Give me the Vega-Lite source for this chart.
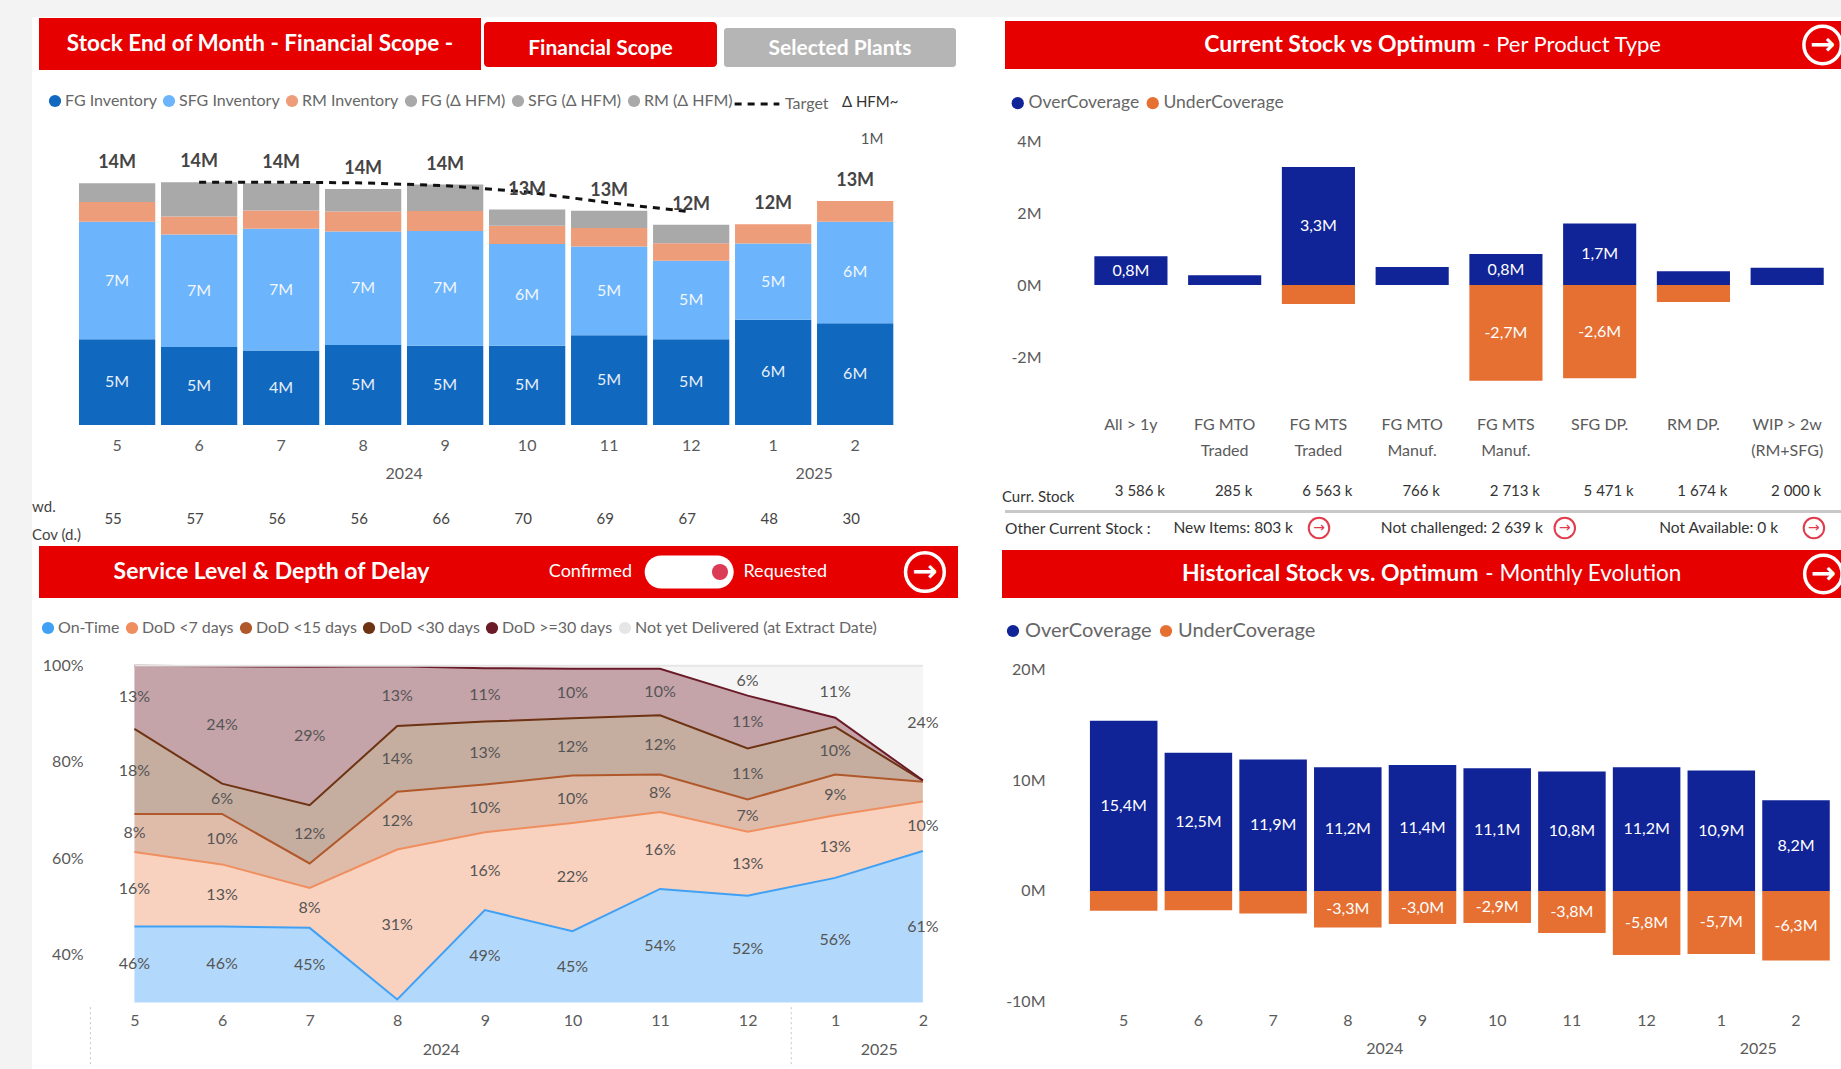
{"$schema":"https://vega.github.io/schema/vega-lite/v6.json","padding":0,"background":"#ffffff","data":{"values":[{"k":1}]},
"config":{"font":"Lato","view":{"stroke":null},"concat":{"spacing":0},"axis":{"labelFontSize":16,"labelColor":"#5a5a5a","ticks":false,"domain":false,"grid":false},"legend":{"labelFontSize":16,"labelColor":"#666666","symbolType":"circle","symbolSize":150,"labelOffset":2,"columnPadding":4,"symbolStrokeWidth":0,"symbolOpacity":1}},
"datasets":{
"none":[],
"years":[{"m":"8","t":"2024"},{"m":"1","t":"2025"}],
"stock":[
{"m":"5","s":"FG Inventory","o":1,"v":5.04,"l":"5M"},{"m":"5","s":"SFG Inventory","o":2,"v":6.91,"l":"7M"},{"m":"5","s":"RM Inventory","o":3,"v":1.16,"l":""},{"m":"5","s":"FG (Δ HFM)","o":4,"v":1.11,"l":""},
{"m":"6","s":"FG Inventory","o":1,"v":4.58,"l":"5M"},{"m":"6","s":"SFG Inventory","o":2,"v":6.63,"l":"7M"},{"m":"6","s":"RM Inventory","o":3,"v":1.05,"l":""},{"m":"6","s":"FG (Δ HFM)","o":4,"v":2.02,"l":""},
{"m":"7","s":"FG Inventory","o":1,"v":4.38,"l":"4M"},{"m":"7","s":"SFG Inventory","o":2,"v":7.16,"l":"7M"},{"m":"7","s":"RM Inventory","o":3,"v":1.07,"l":""},{"m":"7","s":"FG (Δ HFM)","o":4,"v":1.61,"l":""},
{"m":"8","s":"FG Inventory","o":1,"v":4.71,"l":"5M"},{"m":"8","s":"SFG Inventory","o":2,"v":6.67,"l":"7M"},{"m":"8","s":"RM Inventory","o":3,"v":1.18,"l":""},{"m":"8","s":"FG (Δ HFM)","o":4,"v":1.32,"l":""},
{"m":"9","s":"FG Inventory","o":1,"v":4.66,"l":"5M"},{"m":"9","s":"SFG Inventory","o":2,"v":6.75,"l":"7M"},{"m":"9","s":"RM Inventory","o":3,"v":1.18,"l":""},{"m":"9","s":"FG (Δ HFM)","o":4,"v":1.55,"l":""},
{"m":"10","s":"FG Inventory","o":1,"v":4.66,"l":"5M"},{"m":"10","s":"SFG Inventory","o":2,"v":5.99,"l":"6M"},{"m":"10","s":"RM Inventory","o":3,"v":1.07,"l":""},{"m":"10","s":"FG (Δ HFM)","o":4,"v":0.95,"l":""},
{"m":"11","s":"FG Inventory","o":1,"v":5.28,"l":"5M"},{"m":"11","s":"SFG Inventory","o":2,"v":5.22,"l":"5M"},{"m":"11","s":"RM Inventory","o":3,"v":1.09,"l":""},{"m":"11","s":"FG (Δ HFM)","o":4,"v":1.01,"l":""},
{"m":"12","s":"FG Inventory","o":1,"v":5.04,"l":"5M"},{"m":"12","s":"SFG Inventory","o":2,"v":4.62,"l":"5M"},{"m":"12","s":"RM Inventory","o":3,"v":1.03,"l":""},{"m":"12","s":"FG (Δ HFM)","o":4,"v":1.09,"l":""},
{"m":"1","s":"FG Inventory","o":1,"v":6.19,"l":"6M"},{"m":"1","s":"SFG Inventory","o":2,"v":4.48,"l":"5M"},{"m":"1","s":"RM Inventory","o":3,"v":1.14,"l":""},
{"m":"2","s":"FG Inventory","o":1,"v":5.99,"l":"6M"},{"m":"2","s":"SFG Inventory","o":2,"v":5.96,"l":"6M"},{"m":"2","s":"RM Inventory","o":3,"v":1.22,"l":""}],
"totals":[{"m":"5","v":14.22,"l":"14M"},{"m":"6","v":14.28,"l":"14M"},{"m":"7","v":14.22,"l":"14M"},{"m":"8","v":13.88,"l":"14M"},{"m":"9","v":14.14,"l":"14M"},{"m":"10","v":12.67,"l":"13M"},{"m":"11","v":12.6,"l":"13M"},{"m":"12","v":11.78,"l":"12M"},{"m":"1","v":11.81,"l":"12M"},{"m":"2","v":13.17,"l":"13M"}],
"target":[{"m":"6","s":"Target","v":14.28},{"m":"7","s":"Target","v":14.28},{"m":"8","s":"Target","v":14.24},{"m":"9","s":"Target","v":14.08},{"m":"10","s":"Target","v":13.7},{"m":"11","s":"Target","v":13.07},{"m":"12","s":"Target","v":12.54}],
"cov":[{"m":"5","c":55},{"m":"6","c":57},{"m":"7","c":56},{"m":"8","c":56},{"m":"9","c":66},{"m":"10","c":70},{"m":"11","c":69},{"m":"12","c":67},{"m":"1","c":48},{"m":"2","c":30}],
"types":[
{"t":"All > 1y|","s":"OverCoverage","o":1,"v":0.8,"l":"0,8M"},
{"t":"FG MTO|Traded","s":"OverCoverage","o":1,"v":0.27,"l":""},
{"t":"FG MTS|Traded","s":"OverCoverage","o":1,"v":3.28,"l":"3,3M"},{"t":"FG MTS|Traded","s":"UnderCoverage","o":2,"v":-0.53,"l":""},
{"t":"FG MTO|Manuf.","s":"OverCoverage","o":1,"v":0.5,"l":""},
{"t":"FG MTS|Manuf.","s":"OverCoverage","o":1,"v":0.86,"l":"0,8M"},{"t":"FG MTS|Manuf.","s":"UnderCoverage","o":2,"v":-2.66,"l":"-2,7M"},
{"t":"SFG DP.|","s":"OverCoverage","o":1,"v":1.71,"l":"1,7M"},{"t":"SFG DP.|","s":"UnderCoverage","o":2,"v":-2.59,"l":"-2,6M"},
{"t":"RM DP.|","s":"OverCoverage","o":1,"v":0.38,"l":""},{"t":"RM DP.|","s":"UnderCoverage","o":2,"v":-0.47,"l":""},
{"t":"WIP > 2w|(RM+SFG)","s":"OverCoverage","o":1,"v":0.48,"l":""}],
"curr":[{"t":"All > 1y|","c":"3 586 k"},{"t":"FG MTO|Traded","c":"285 k"},{"t":"FG MTS|Traded","c":"6 563 k"},{"t":"FG MTO|Manuf.","c":"766 k"},{"t":"FG MTS|Manuf.","c":"2 713 k"},{"t":"SFG DP.|","c":"5 471 k"},{"t":"RM DP.|","c":"1 674 k"},{"t":"WIP > 2w|(RM+SFG)","c":"2 000 k"}],
"hist":[
{"m":"5","s":"OverCoverage","v":15.4,"l":"15,4M"},{"m":"5","s":"UnderCoverage","v":-1.8,"l":""},
{"m":"6","s":"OverCoverage","v":12.5,"l":"12,5M"},{"m":"6","s":"UnderCoverage","v":-1.75,"l":""},
{"m":"7","s":"OverCoverage","v":11.9,"l":"11,9M"},{"m":"7","s":"UnderCoverage","v":-2.05,"l":""},
{"m":"8","s":"OverCoverage","v":11.2,"l":"11,2M"},{"m":"8","s":"UnderCoverage","v":-3.3,"l":"-3,3M"},
{"m":"9","s":"OverCoverage","v":11.4,"l":"11,4M"},{"m":"9","s":"UnderCoverage","v":-3.0,"l":"-3,0M"},
{"m":"10","s":"OverCoverage","v":11.1,"l":"11,1M"},{"m":"10","s":"UnderCoverage","v":-2.9,"l":"-2,9M"},
{"m":"11","s":"OverCoverage","v":10.8,"l":"10,8M"},{"m":"11","s":"UnderCoverage","v":-3.8,"l":"-3,8M"},
{"m":"12","s":"OverCoverage","v":11.2,"l":"11,2M"},{"m":"12","s":"UnderCoverage","v":-5.8,"l":"-5,8M"},
{"m":"1","s":"OverCoverage","v":10.9,"l":"10,9M"},{"m":"1","s":"UnderCoverage","v":-5.7,"l":"-5,7M"},
{"m":"2","s":"OverCoverage","v":8.2,"l":"8,2M"},{"m":"2","s":"UnderCoverage","v":-6.3,"l":"-6,3M"}],
"service":[
{"m":"5","s":"On-Time","o":1,"v":45.8,"l":"46%"},{"m":"6","s":"On-Time","o":1,"v":45.8,"l":"46%"},{"m":"7","s":"On-Time","o":1,"v":45.5,"l":"45%"},{"m":"8","s":"On-Time","o":1,"v":30.6,"l":""},{"m":"9","s":"On-Time","o":1,"v":49.2,"l":"49%"},{"m":"10","s":"On-Time","o":1,"v":44.8,"l":"45%"},{"m":"11","s":"On-Time","o":1,"v":53.6,"l":"54%"},{"m":"12","s":"On-Time","o":1,"v":52.2,"l":"52%"},{"m":"1","s":"On-Time","o":1,"v":55.9,"l":"56%"},{"m":"2","s":"On-Time","o":1,"v":61.5,"l":"61%"},
{"m":"5","s":"DoD <7 days","o":2,"v":15.5,"l":"16%"},{"m":"6","s":"DoD <7 days","o":2,"v":12.9,"l":"13%"},{"m":"7","s":"DoD <7 days","o":2,"v":8.3,"l":"8%"},{"m":"8","s":"DoD <7 days","o":2,"v":31.2,"l":"31%"},{"m":"9","s":"DoD <7 days","o":2,"v":16.2,"l":"16%"},{"m":"10","s":"DoD <7 days","o":2,"v":22.5,"l":"22%"},{"m":"11","s":"DoD <7 days","o":2,"v":16.0,"l":"16%"},{"m":"12","s":"DoD <7 days","o":2,"v":13.3,"l":"13%"},{"m":"1","s":"DoD <7 days","o":2,"v":13.0,"l":"13%"},{"m":"2","s":"DoD <7 days","o":2,"v":10.3,"l":"10%"},
{"m":"5","s":"DoD <15 days","o":3,"v":7.9,"l":"8%"},{"m":"6","s":"DoD <15 days","o":3,"v":10.5,"l":"10%"},{"m":"7","s":"DoD <15 days","o":3,"v":5.1,"l":""},{"m":"8","s":"DoD <15 days","o":3,"v":12.0,"l":"12%"},{"m":"9","s":"DoD <15 days","o":3,"v":9.9,"l":"10%"},{"m":"10","s":"DoD <15 days","o":3,"v":9.9,"l":"10%"},{"m":"11","s":"DoD <15 days","o":3,"v":7.8,"l":"8%"},{"m":"12","s":"DoD <15 days","o":3,"v":6.7,"l":"7%"},{"m":"1","s":"DoD <15 days","o":3,"v":8.5,"l":"9%"},{"m":"2","s":"DoD <15 days","o":3,"v":4.1,"l":""},
{"m":"5","s":"DoD <30 days","o":4,"v":17.7,"l":"18%"},{"m":"6","s":"DoD <30 days","o":4,"v":6.3,"l":"6%"},{"m":"7","s":"DoD <30 days","o":4,"v":12.1,"l":"12%"},{"m":"8","s":"DoD <30 days","o":4,"v":13.7,"l":"14%"},{"m":"9","s":"DoD <30 days","o":4,"v":13.1,"l":"13%"},{"m":"10","s":"DoD <30 days","o":4,"v":11.9,"l":"12%"},{"m":"11","s":"DoD <30 days","o":4,"v":12.3,"l":"12%"},{"m":"12","s":"DoD <30 days","o":4,"v":10.6,"l":"11%"},{"m":"1","s":"DoD <30 days","o":4,"v":9.9,"l":"10%"},{"m":"2","s":"DoD <30 days","o":4,"v":0.2,"l":""},
{"m":"5","s":"DoD >=30 days","o":5,"v":13.1,"l":"13%"},{"m":"6","s":"DoD >=30 days","o":5,"v":24.4,"l":"24%"},{"m":"7","s":"DoD >=30 days","o":5,"v":28.8,"l":"29%"},{"m":"8","s":"DoD >=30 days","o":5,"v":12.4,"l":"13%"},{"m":"9","s":"DoD >=30 days","o":5,"v":11.1,"l":"11%"},{"m":"10","s":"DoD >=30 days","o":5,"v":10.3,"l":"10%"},{"m":"11","s":"DoD >=30 days","o":5,"v":9.7,"l":"10%"},{"m":"12","s":"DoD >=30 days","o":5,"v":11.0,"l":"11%"},{"m":"1","s":"DoD >=30 days","o":5,"v":1.9,"l":""},{"m":"2","s":"DoD >=30 days","o":5,"v":0.1,"l":""},
{"m":"5","s":"Not yet Delivered (at Extract Date)","o":6,"v":0,"l":""},{"m":"6","s":"Not yet Delivered (at Extract Date)","o":6,"v":0.1,"l":""},{"m":"7","s":"Not yet Delivered (at Extract Date)","o":6,"v":0.2,"l":""},{"m":"8","s":"Not yet Delivered (at Extract Date)","o":6,"v":0.1,"l":""},{"m":"9","s":"Not yet Delivered (at Extract Date)","o":6,"v":0.5,"l":""},{"m":"10","s":"Not yet Delivered (at Extract Date)","o":6,"v":0.6,"l":""},{"m":"11","s":"Not yet Delivered (at Extract Date)","o":6,"v":0.6,"l":""},{"m":"12","s":"Not yet Delivered (at Extract Date)","o":6,"v":6.2,"l":"6%"},{"m":"1","s":"Not yet Delivered (at Extract Date)","o":6,"v":10.8,"l":"11%"},{"m":"2","s":"Not yet Delivered (at Extract Date)","o":6,"v":23.8,"l":"24%"}]
},
"resolve":{"scale":{"color":"independent","strokeDash":"independent"},"legend":{"color":"independent","strokeDash":"independent"}},
"spacing":0,
"vconcat":[
{"width":1841,"height":17,"view":{"fill":"#f3f3f3"},"data":{"name":"none"},"mark":"text"},
{"spacing":0,"resolve":{"scale":{"color":"independent","strokeDash":"independent"},"legend":{"color":"independent","strokeDash":"independent"}},"hconcat":[
{"width":32,"height":1052,"view":{"fill":"#f3f3f3"},"data":{"name":"none"},"mark":"text"},
{"spacing":0,"resolve":{"scale":{"color":"independent","strokeDash":"independent"},"legend":{"color":"independent","strokeDash":"independent"}},"vconcat":[
 {"spacing":0,"hconcat":[
  {"width":7,"height":53,"data":{"name":"none"},"mark":"text"},
  {"spacing":0,"vconcat":[{"width":442,"height":1,"data":{"name":"none"},"mark":"text"},{"width":442,"height":52,"view":{"fill":"#e60000"},"mark":{"type":"text","text":"Stock End of Month - Financial Scope -","color":"#ffffff","fontSize":22.5,"fontWeight":"bold","align":"center"}}]},
  {"width":3,"height":53,"data":{"name":"none"},"mark":"text"},
  {"spacing":0,"vconcat":[{"width":233,"height":5,"data":{"name":"none"},"mark":"text"},{"width":233,"height":45,"view":{"fill":"#e60000","cornerRadius":4},"mark":{"type":"text","text":"Financial Scope","color":"#ffffff","fontSize":21,"fontWeight":"bold","dy":4}}]},
  {"width":7,"height":53,"data":{"name":"none"},"mark":"text"},
  {"spacing":0,"vconcat":[{"width":232,"height":11,"data":{"name":"none"},"mark":"text"},{"width":232,"height":39,"view":{"fill":"#b5b5b5","cornerRadius":3},"mark":{"type":"text","text":"Selected Plants","color":"#ffffff","fontSize":21,"fontWeight":"bold","dy":1}}]},
  {"width":34,"height":53,"data":{"name":"none"},"mark":"text"}
 ]},
 {"width":958,"height":475,
 "encoding":{"x":{"field":"m","type":"nominal","sort":["5","6","7","8","9","10","11","12","1","2"],"scale":{"paddingInner":0.07,"paddingOuter":0.876,"align":0.327},"axis":{"title":null,"labelAngle":0,"labelPadding":12,"offset":-120}}},
 "layer":[
 {"data":{"name":"stock"},"mark":{"type":"bar"},"encoding":{"y":{"field":"v","type":"quantitative","stack":"zero","scale":{"domain":[-7.06,20.88],"nice":false},"axis":null},"order":{"field":"o"},"color":{"field":"s","type":"nominal","scale":{"domain":["FG Inventory","SFG Inventory","RM Inventory","FG (Δ HFM)","SFG (Δ HFM)","RM (Δ HFM)"],"range":["#1068bf","#6cb4fb","#ee9d7a","#a9a9a9","#a9a9a9","#a9a9a9"]},"legend":{"title":null,"orient":"none","direction":"horizontal","legendX":15,"legendY":23}}}},
 {"data":{"name":"stock"},"mark":{"type":"text","color":"#ffffff","fontSize":16,"opacity":0.9},"encoding":{"y":{"field":"v","type":"quantitative","stack":"zero","bandPosition":0.5},"order":{"field":"o"},"detail":{"field":"s"},"text":{"field":"l"}}},
 {"data":{"name":"target"},"mark":{"type":"line","color":"#111111","strokeWidth":3},"encoding":{"y":{"field":"v","type":"quantitative"},"strokeDash":{"field":"s","type":"nominal","scale":{"domain":["Target"],"range":[[7,6]]},"legend":{"title":null,"orient":"none","direction":"horizontal","legendX":701,"legendY":10,"symbolType":"stroke","symbolSize":2000,"symbolStrokeWidth":3,"symbolStrokeColor":"#111111","labelOffset":4}}}},
 {"data":{"name":"totals"},"mark":{"type":"text","color":"#444444","fontSize":18,"fontWeight":"bold","dy":-20},"encoding":{"y":{"field":"v","type":"quantitative"},"text":{"field":"l"}}},
 {"data":{"name":"years"},"mark":{"type":"text","color":"#5a5a5a","fontSize":16,"dx":41},"encoding":{"y":{"datum":-2.88,"type":"quantitative"},"text":{"field":"t"}}},
 {"data":{"name":"cov"},"mark":{"type":"text","color":"#444444","fontSize":15,"dx":-4},"encoding":{"y":{"datum":-5.53,"type":"quantitative"},"text":{"field":"c"}}},
 {"data":{"values":[{"m":"5"}]},"mark":{"type":"text","text":"wd.","color":"#444444","fontSize":15,"align":"left","dx":-85},"encoding":{"y":{"datum":-4.82,"type":"quantitative"}}},
 {"data":{"values":[{"m":"5"}]},"mark":{"type":"text","text":"Cov (d.)","color":"#444444","fontSize":15,"align":"left","dx":-85},"encoding":{"y":{"datum":-6.47,"type":"quantitative"}}},
 {"data":{"values":[{"m":"2"}]},"mark":{"type":"text","text":"1M","color":"#555555","fontSize":15,"dx":17},"encoding":{"y":{"datum":16.8,"type":"quantitative"}}},
 {"data":{"values":[{"m":"2"}]},"mark":{"type":"text","text":"Δ HFM~","color":"#333333","fontSize":15,"dx":15},"encoding":{"y":{"datum":19,"type":"quantitative"}}}
 ]},
 {"spacing":0,"hconcat":[
  {"width":7,"height":52,"data":{"name":"none"},"mark":"text"},
  {"width":919,"height":52,"view":{"fill":"#e60000"},"layer":[
  {"mark":{"type":"text","text":"Service Level & Depth of Delay","color":"#ffffff","fontSize":23,"fontWeight":"bold"},"encoding":{"x":{"datum":25.3,"type":"quantitative","scale":{"domain":[0,100]},"axis":null}}},
  {"mark":{"type":"text","text":"Confirmed","color":"#ffffff","fontSize":18},"encoding":{"x":{"datum":60,"type":"quantitative","scale":{"domain":[0,100]},"axis":null}}},
  {"mark":{"type":"text","text":"Requested","color":"#ffffff","fontSize":18},"encoding":{"x":{"datum":81.2,"type":"quantitative","scale":{"domain":[0,100]},"axis":null}}},
  {"mark":{"type":"rule","color":"#ffffff","strokeWidth":33,"strokeCap":"round"},"encoding":{"x":{"datum":67.7,"type":"quantitative","scale":{"domain":[0,100]},"axis":null},"x2":{"datum":73.8}}},
  {"mark":{"type":"point","shape":"circle","size":260,"filled":true,"color":"#dc3b55","opacity":1},"encoding":{"x":{"datum":74.1,"type":"quantitative","scale":{"domain":[0,100]},"axis":null}}},
  {"mark":{"type":"point","shape":"circle","size":1500,"filled":false,"color":"#ffffff","strokeWidth":3.5,"opacity":1},"encoding":{"x":{"datum":96.4,"type":"quantitative","scale":{"domain":[0,100]},"axis":null}}},
  {"mark":{"type":"text","text":"→","font":"DejaVu Sans","fontSize":30,"fontWeight":"bold","color":"#ffffff"},"encoding":{"x":{"datum":96.4,"type":"quantitative","scale":{"domain":[0,100]},"axis":null}}}
  ]},
  {"width":32,"height":52,"data":{"name":"none"},"mark":"text"}
 ]},
 {"width":958,"height":472,
 "encoding":{"x":{"field":"m","type":"nominal","sort":["5","6","7","8","9","10","11","12","1","2"],"scale":{"type":"point","padding":0.968,"align":0.604},"axis":{"title":null,"labelAngle":0,"labelPadding":9,"offset":-68}}},
 "layer":[
 {"data":{"name":"service"},"transform":[{"stack":"v","groupby":["m"],"sort":[{"field":"o","order":"ascending"}],"as":["y0","y1"]},{"calculate":"max(datum.y0,30)","as":"lo"}],"mark":{"type":"area","opacity":0.4},"encoding":{"y":{"field":"y1","type":"quantitative","scale":{"domain":[15.73,113.9],"nice":false},"axis":{"title":null,"values":[40,60,80,100],"labelExpr":"datum.value+'%'","labelPadding":0,"offset":-51}},"y2":{"field":"lo"},"color":{"field":"s","type":"nominal","scale":{"domain":["On-Time","DoD <7 days","DoD <15 days","DoD <30 days","DoD >=30 days","Not yet Delivered (at Extract Date)"],"range":["#3fa0f5","#ef8f60","#b0582a","#6e3312","#6b1a28","#e6e6e6"]},"legend":{"title":null,"orient":"none","direction":"horizontal","legendX":8,"legendY":21,"labelLimit":400}}}},
 {"data":{"name":"service"},"transform":[{"stack":"v","groupby":["m"],"sort":[{"field":"o","order":"ascending"}],"as":["y0","y1"]}],"mark":{"type":"line","strokeWidth":2},"encoding":{"y":{"field":"y1","type":"quantitative"},"color":{"field":"s","type":"nominal","legend":null}}},
 {"data":{"name":"service"},"transform":[{"stack":"v","groupby":["m"],"sort":[{"field":"o","order":"ascending"}],"as":["y0","y1"]},{"calculate":"(max(datum.y0,30)+datum.y1)/2","as":"mid"}],"mark":{"type":"text","color":"#555555","fontSize":16},"encoding":{"y":{"field":"mid","type":"quantitative"},"text":{"field":"l"}}},
 {"data":{"name":"years"},"mark":{"type":"text","color":"#5a5a5a","fontSize":16,"dx":44},"encoding":{"y":{"datum":20.1,"type":"quantitative"},"text":{"field":"t"}}},
 {"data":{"values":[{"m":"5"},{"m":"1"}]},"mark":{"type":"rule","color":"#c4c4c4","strokeDash":[2,3],"xOffset":-44},"encoding":{"y":{"datum":29,"type":"quantitative"},"y2":{"datum":17}}}
 ]}
]},
{"spacing":0,"resolve":{"scale":{"color":"independent","strokeDash":"independent"},"legend":{"color":"independent","strokeDash":"independent"}},"vconcat":[
 {"spacing":0,"hconcat":[
  {"width":15,"height":52,"data":{"name":"none"},"mark":"text"},
  {"spacing":0,"vconcat":[{"width":836,"height":4,"data":{"name":"none"},"mark":"text"},{"width":836,"height":48,"view":{"fill":"#e60000"},"layer":[
  {"mark":{"type":"text","text":"Current Stock vs Optimum","align":"right","color":"#ffffff","fontSize":23,"fontWeight":"bold"},"encoding":{"x":{"datum":56.3,"type":"quantitative","scale":{"domain":[0,100]},"axis":null}}},
  {"mark":{"type":"text","text":"- Per Product Type","align":"left","color":"#ffffff","fontSize":22},"encoding":{"x":{"datum":57.1,"type":"quantitative","scale":{"domain":[0,100]},"axis":null}}},
  {"mark":{"type":"point","shape":"circle","size":1400,"filled":false,"color":"#ffffff","strokeWidth":3.5,"opacity":1,"clip":true},"encoding":{"x":{"datum":97.8,"type":"quantitative","scale":{"domain":[0,100]},"axis":null}}},
  {"mark":{"type":"text","text":"→","font":"DejaVu Sans","fontSize":30,"fontWeight":"bold","color":"#ffffff","clip":true},"encoding":{"x":{"datum":97.8,"type":"quantitative","scale":{"domain":[0,100]},"axis":null}}}
  ]}]}
 ]},
 {"width":851,"height":441,
 "encoding":{"x":{"field":"t","type":"nominal","sort":["All > 1y|","FG MTO|Traded","FG MTS|Traded","FG MTO|Manuf.","FG MTS|Manuf.","SFG DP.|","RM DP.|","WIP > 2w|(RM+SFG)"],"scale":{"paddingInner":0.22,"paddingOuter":0.6487,"align":0.858},"axis":{"title":null,"labelAngle":0,"labelPadding":23,"labelLineHeight":26,"offset":-117,"labelExpr":"split(datum.label,'|')"}}},
 "layer":[
 {"data":{"name":"types"},"mark":{"type":"bar"},"encoding":{"y":{"field":"v","type":"quantitative","stack":"zero","scale":{"domain":[-6.25,6],"nice":false},"axis":{"title":null,"values":[-2,0,2,4],"labelExpr":"datum.value+'M'","labelPadding":0,"offset":-51}},"order":{"field":"o"},"color":{"field":"s","type":"nominal","scale":{"domain":["OverCoverage","UnderCoverage"],"range":["#102497","#e66f32"]},"legend":{"title":null,"orient":"none","direction":"horizontal","legendX":19,"legendY":25,"labelFontSize":17.5}}}},
 {"data":{"name":"types"},"mark":{"type":"text","color":"#ffffff","fontSize":16},"encoding":{"y":{"field":"v","type":"quantitative","stack":"zero","bandPosition":0.5},"order":{"field":"o"},"detail":{"field":"s"},"text":{"field":"l"}}},
 {"data":{"name":"curr"},"mark":{"type":"text","color":"#333333","fontSize":15,"dx":9},"encoding":{"y":{"datum":-5.72,"type":"quantitative"},"text":{"field":"c"}}},
 {"data":{"values":[{"t":"All > 1y|"}]},"mark":{"type":"text","text":"Curr. Stock","align":"left","color":"#333333","fontSize":15,"dx":-129},"encoding":{"y":{"datum":-5.9,"type":"quantitative"}}}
 ]},
 {"spacing":0,"hconcat":[{"width":15,"height":3,"data":{"name":"none"},"mark":"text"},{"width":836,"height":3,"view":{"fill":"#c8c8c8"},"data":{"name":"none"},"mark":"text"}]},
 {"spacing":0,"hconcat":[{"width":15,"height":36,"data":{"name":"none"},"mark":"text"},
 {"width":836,"height":36,"layer":[
 {"mark":{"type":"text","text":"Other Current Stock :","align":"left","color":"#333333","fontSize":15.5,"dx":-3,"dy":-3},"encoding":{"x":{"datum":0,"type":"quantitative","scale":{"domain":[0,100]},"axis":null}}},
 {"mark":{"type":"text","text":"New Items:  803 k","align":"left","color":"#333333","fontSize":15.5,"dy":-4},"encoding":{"x":{"datum":19.8,"type":"quantitative","scale":{"domain":[0,100]},"axis":null}}},
 {"mark":{"type":"text","text":"Not challenged: 2 639 k","align":"left","color":"#333333","fontSize":15.5,"dy":-4},"encoding":{"x":{"datum":44.6,"type":"quantitative","scale":{"domain":[0,100]},"axis":null}}},
 {"mark":{"type":"text","text":"Not Available: 0 k","align":"left","color":"#333333","fontSize":15.5,"dy":-4},"encoding":{"x":{"datum":77.9,"type":"quantitative","scale":{"domain":[0,100]},"axis":null}}},
 {"mark":{"type":"point","shape":"circle","size":420,"filled":false,"color":"#e03c4c","strokeWidth":2,"opacity":1,"yOffset":-4},"encoding":{"x":{"datum":37.2,"type":"quantitative","scale":{"domain":[0,100]},"axis":null}}},
 {"mark":{"type":"point","shape":"circle","size":420,"filled":false,"color":"#e03c4c","strokeWidth":2,"opacity":1,"yOffset":-4},"encoding":{"x":{"datum":66.6,"type":"quantitative","scale":{"domain":[0,100]},"axis":null}}},
 {"mark":{"type":"point","shape":"circle","size":420,"filled":false,"color":"#e03c4c","strokeWidth":2,"opacity":1,"yOffset":-4},"encoding":{"x":{"datum":96.4,"type":"quantitative","scale":{"domain":[0,100]},"axis":null}}},
 {"mark":{"type":"text","text":"→","font":"DejaVu Sans","color":"#e03c4c","fontSize":14,"dy":-4},"encoding":{"x":{"datum":37.2,"type":"quantitative","scale":{"domain":[0,100]},"axis":null}}},
 {"mark":{"type":"text","text":"→","font":"DejaVu Sans","color":"#e03c4c","fontSize":14,"dy":-4},"encoding":{"x":{"datum":66.6,"type":"quantitative","scale":{"domain":[0,100]},"axis":null}}},
 {"mark":{"type":"text","text":"→","font":"DejaVu Sans","color":"#e03c4c","fontSize":14,"dy":-4},"encoding":{"x":{"datum":96.4,"type":"quantitative","scale":{"domain":[0,100]},"axis":null}}}
 ]}]},
 {"spacing":0,"hconcat":[{"width":12,"height":48,"data":{"name":"none"},"mark":"text"},
 {"width":839,"height":48,"view":{"fill":"#e60000"},"layer":[
 {"mark":{"type":"text","text":"Historical Stock vs. Optimum","align":"right","color":"#ffffff","fontSize":23,"fontWeight":"bold"},"encoding":{"x":{"datum":56.8,"type":"quantitative","scale":{"domain":[0,100]},"axis":null}}},
 {"mark":{"type":"text","text":"- Monthly Evolution","align":"left","color":"#ffffff","fontSize":22.5},"encoding":{"x":{"datum":57.6,"type":"quantitative","scale":{"domain":[0,100]},"axis":null}}},
 {"mark":{"type":"point","shape":"circle","size":1400,"filled":false,"color":"#ffffff","strokeWidth":3.5,"opacity":1,"clip":true},"encoding":{"x":{"datum":97.9,"type":"quantitative","scale":{"domain":[0,100]},"axis":null}}},
 {"mark":{"type":"text","text":"→","font":"DejaVu Sans","fontSize":30,"fontWeight":"bold","color":"#ffffff","clip":true},"encoding":{"x":{"datum":97.9,"type":"quantitative","scale":{"domain":[0,100]},"axis":null}}}
 ]}]},
 {"width":851,"height":472,
 "encoding":{"x":{"field":"m","type":"nominal","sort":["5","6","7","8","9","10","11","12","1","2"],"scale":{"paddingInner":0.096,"paddingOuter":0.744,"align":0.899},"axis":{"title":null,"labelAngle":0,"labelPadding":10,"offset":-68}}},
 "layer":[
 {"data":{"name":"hist"},"mark":{"type":"bar"},"encoding":{"y":{"field":"v","type":"quantitative","stack":"zero","scale":{"domain":[-16.2,26.51],"nice":false},"axis":{"title":null,"values":[-10,0,10,20],"labelExpr":"datum.value+'M'","labelPadding":0,"offset":-55}},"color":{"field":"s","type":"nominal","scale":{"domain":["OverCoverage","UnderCoverage"],"range":["#102497","#e66f32"]},"legend":{"title":null,"orient":"none","direction":"horizontal","legendX":13,"legendY":23,"labelFontSize":20}}}},
 {"data":{"name":"hist"},"mark":{"type":"text","color":"#ffffff","fontSize":16},"encoding":{"y":{"field":"v","type":"quantitative","stack":"zero","bandPosition":0.5},"detail":{"field":"s"},"text":{"field":"l"}}},
 {"data":{"name":"years"},"mark":{"type":"text","color":"#5a5a5a","fontSize":16,"dx":37},"encoding":{"y":{"datum":-14.3,"type":"quantitative"},"text":{"field":"t"}}}
 ]}
]}
]}
]}
